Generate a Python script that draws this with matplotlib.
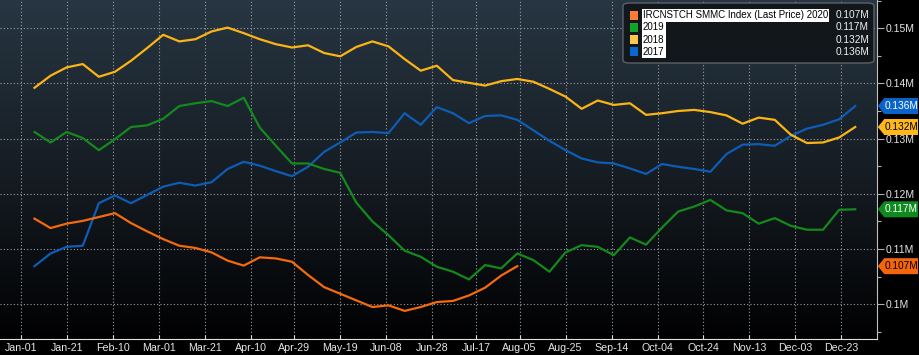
""" Weekly IRCNSTCH SMMC index, 2017-2020 seasonal overlay in a dark terminal style. """

import numpy as np
import pandas as pd
import matplotlib
matplotlib.use('Agg')
import matplotlib.pyplot as plt
from matplotlib.colors import LinearSegmentedColormap
from matplotlib.patches import Polygon, Rectangle, FancyBboxPatch

plt.rcParams['font.family'] = ['Liberation Sans', 'DejaVu Sans']
FS = 7.3

# weekly observations, values in thousands
weeks = pd.date_range('2020-01-07', periods=52, freq='7D')

s2020 = [115.5, 113.8, 114.6, 115.1, 115.8, 116.5, 114.7, 113.2, 111.8, 110.6,
         110.2, 109.4, 107.9, 107.0, 108.5, 108.3, 107.7, 105.3, 103.1, 101.9,
         100.7, 99.5, 99.8, 98.8, 99.5, 100.4, 100.6, 101.6, 103.0, 105.2, 106.9]
s2019 = [131.2, 129.3, 131.2, 130.1, 127.9, 129.9, 132.1, 132.4, 133.6, 135.9,
         136.4, 136.8, 135.9, 137.4, 132.0, 128.7, 125.5, 125.5, 124.5, 123.8,
         118.4, 115.0, 112.5, 109.7, 108.6, 106.8, 105.9, 104.5, 107.1, 106.5,
         109.2, 108.0, 105.9, 109.4, 110.7, 110.4, 108.9, 112.1, 110.8, 113.9,
         116.8, 117.7, 118.9, 117.0, 116.5, 114.6, 115.6, 114.2, 113.5, 113.5,
         117.1, 117.2]
s2018 = [139.2, 141.4, 142.9, 143.5, 141.2, 142.1, 144.1, 146.4, 148.8, 147.6,
         148.0, 149.4, 150.1, 149.1, 148.0, 147.1, 146.5, 146.9, 145.5, 144.9,
         146.6, 147.6, 146.7, 144.4, 142.3, 143.2, 140.6, 140.1, 139.6, 140.4,
         140.8, 140.3, 139.0, 137.6, 135.4, 136.9, 136.1, 136.4, 134.3, 134.6,
         135.0, 135.2, 134.8, 134.2, 132.7, 133.8, 133.4, 130.7, 129.2, 129.3,
         130.2, 132.1]
s2017 = [106.9, 109.2, 110.4, 110.6, 118.3, 119.7, 118.3, 119.8, 121.3, 122.0,
         121.5, 122.1, 124.5, 125.8, 125.1, 124.1, 123.2, 124.9, 127.6, 129.3,
         131.1, 131.2, 131.0, 134.6, 132.5, 135.7, 134.6, 132.8, 134.1, 134.2,
         133.4, 131.5, 129.6, 127.9, 126.4, 125.7, 125.5, 124.6, 123.6, 125.4,
         124.9, 124.5, 124.0, 127.2, 128.9, 129.0, 128.7, 130.5, 131.8, 132.5,
         133.5, 135.9]

names = ['IRCNSTCH SMMC Index (Last Price) 2020', '2019', '2018', '2017']
series = [s2020, s2019, s2018, s2017]
line_colors = ['#f56a0c', '#14891c', '#fbb414', '#0e5cb5']
key_colors = ['#ff7d32', '#10a52a', '#ffc54d', '#0a67d0']
tag_colors = ['#f5660c', '#0f8a1e', '#ffb81c', '#0a63c8']
tag_text = ['black', 'white', 'black', 'white']

tick_dates = ['2020-01-01', '2020-01-21', '2020-02-10', '2020-03-01', '2020-03-21',
              '2020-04-10', '2020-04-29', '2020-05-19', '2020-06-08', '2020-06-28',
              '2020-07-17', '2020-08-05', '2020-08-25', '2020-09-14', '2020-10-04',
              '2020-10-24', '2020-11-13', '2020-12-03', '2020-12-23']
tick_labels = ['Jan-01', 'Jan-21', 'Feb-10', 'Mar-01', 'Mar-21', 'Apr-10', 'Apr-29',
               'May-19', 'Jun-08', 'Jun-28', 'Jul-17', 'Aug-05', 'Aug-25', 'Sep-14',
               'Oct-04', 'Oct-24', 'Nov-13', 'Dec-03', 'Dec-23']
y_ticks = [0.10, 0.11, 0.12, 0.13, 0.14, 0.15]
y_labels = ['0.1M', '0.11M', '0.12M', '0.13M', '0.14M', '0.15M']

W, H = 919, 355
fig = plt.figure(figsize=(W / 100, H / 100), dpi=100, facecolor='black')
rect = [0.0, 1 - 339 / H, 877.3 / W, 339 / H]

# gradient background behind the plot area
bg = fig.add_axes(rect, zorder=0)
grad = np.linspace(0, 1, 256).reshape(-1, 1)
cmap = LinearSegmentedColormap.from_list('bg', ['#273642', '#161d24', '#010102'])
bg.imshow(grad, cmap=cmap, aspect='auto', extent=(0, 1, 0, 1))
bg.set_axis_off()

ax = fig.add_axes(rect, zorder=1)
ax.set_facecolor('none')

for vals, c in zip(series[::-1], line_colors[::-1]):
    ax.plot(weeks[:len(vals)], np.array(vals) / 1000, color=c, lw=1.6)

ax.set_xlim(pd.Timestamp('2020-01-01') - pd.Timedelta(days=9.0),
            pd.Timestamp('2020-01-01') + pd.Timedelta(days=372.6))
ax.set_ylim(0.09371, 0.1551)

ax.set_xticks(pd.to_datetime(tick_dates))
ax.set_xticklabels(tick_labels)
ax.yaxis.tick_right()
ax.set_yticks(y_ticks)
ax.set_yticklabels(y_labels)
ax.set_yticks([0.095, 0.105, 0.115, 0.125, 0.135, 0.145, 0.155], minor=True)
ax.tick_params(axis='x', colors='#d8d8d8', labelsize=FS + 0.4, length=3, width=0.8,
               pad=3, direction='in', labelcolor='#e6e6e6')
ax.tick_params(axis='y', which='major', colors='#b0b0b0', labelcolor='#e6e6e6',
               labelsize=FS + 0.2, length=5, width=0.8, pad=1)
ax.tick_params(axis='y', which='minor', colors='#b0b0b0', length=3, width=0.8)
ax.grid(True, color='#9a9fa4', lw=0.8, linestyle=(0, (1, 2)))
for side in ['top', 'left']:
    ax.spines[side].set_visible(False)
ax.spines['right'].set_color('#c0c0c0')
ax.spines['bottom'].set_color('#e0e0e0')

# legend box drawn by hand
ax_w, ax_h = 877.3, 339.0
box = FancyBboxPatch((623 / ax_w, 1 - 63 / ax_h), 251 / ax_w, 60 / ax_h,
                     boxstyle='round,pad=0,rounding_size=0.008', transform=ax.transAxes,
                     facecolor='#12171c', edgecolor='#5c6168', lw=1, zorder=5)
ax.add_patch(box)
row_y = [15.5, 27.5, 39.8, 51.8]
for name, vals, kc, ry in zip(names, series, key_colors, row_y):
    yy = 1 - ry / ax_h
    ax.add_patch(Rectangle((630 / ax_w, yy - 4.5 / ax_h), 8 / ax_w, 9 / ax_h,
                           transform=ax.transAxes, facecolor=kc, edgecolor='none', zorder=6))
    ax.text(643 / ax_w, yy, name, transform=ax.transAxes, ha='left', va='center',
            fontsize=7.0, color='black', zorder=7,
            bbox=dict(boxstyle='square,pad=0.12', facecolor='white', edgecolor='none'))
    ax.text(869 / ax_w, yy, f'{vals[-1] / 1000:.3f}M', transform=ax.transAxes,
            ha='right', va='center', fontsize=FS, color='#f0f0f0', zorder=7)

# last-value tags on the right axis
x_edge = ax.bbox.x1
for vals, tc, txc in zip(series, tag_colors, tag_text):
    yd = ax.transData.transform((0, vals[-1] / 1000))[1]
    pts = [(x_edge + 0.5, yd), (x_edge + 7, yd + 8), (W - 1, yd + 8),
           (W - 1, yd - 8), (x_edge + 7, yd - 8)]
    fig.patches.append(Polygon(pts, closed=True, transform=None, facecolor=tc,
                               edgecolor='none', zorder=8, figure=fig))
    fig.text((x_edge + 7 + (W - 1)) / 2 / W, yd / H, f'{vals[-1] / 1000:.3f}M',
             ha='center', va='center', fontsize=FS, color=txc, zorder=9)

fig.savefig('out.png', dpi=100, facecolor='black')
